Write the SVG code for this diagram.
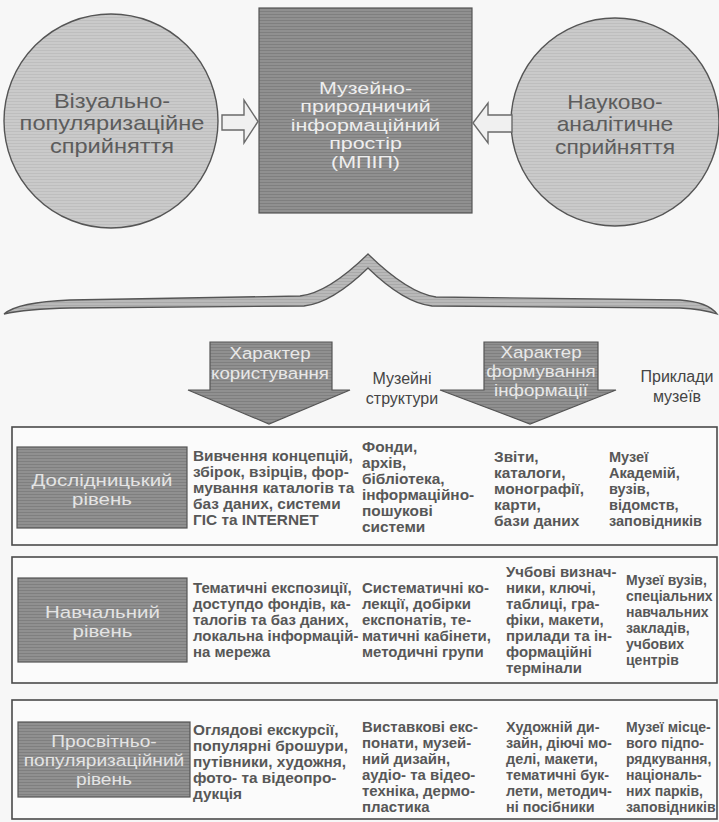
<svg xmlns="http://www.w3.org/2000/svg" width="719" height="822" viewBox="0 0 719 822">
<defs>
<pattern id="texL" width="8" height="3" patternUnits="userSpaceOnUse"><rect width="8" height="3" fill="#cacaca"/><rect y="2" width="8" height="1" fill="#bebebe"/></pattern>
<pattern id="texD" width="8" height="3" patternUnits="userSpaceOnUse"><rect width="8" height="3" fill="#909090"/><rect y="2" width="8" height="1" fill="#7f7f7f"/></pattern>
<pattern id="texB" width="8" height="3" patternUnits="userSpaceOnUse"><rect width="8" height="3" fill="#b9b9b9"/><rect y="2" width="8" height="1" fill="#a9a9a9"/></pattern>
</defs>
<style>
text{font-family:"Liberation Sans",Arial,sans-serif}
.body{font-size:14px;font-weight:bold;fill:#575757}
.hdr{font-size:16px;fill:#454545;text-anchor:middle}
.lab{font-size:16.5px;fill:#e4e4e4;text-anchor:middle}
.circ{font-size:20px;fill:#5c5c5c;text-anchor:middle}
.ctr{font-size:16.5px;fill:#eeeeee;text-anchor:middle}
.arr{font-size:17px;fill:#e8e8e8;text-anchor:middle}
.row{fill:#fbfbfb;stroke:#4a4a4a;stroke-width:1.6}
.dark{fill:url(#texD);stroke:#555;stroke-width:1.2}
.light{fill:url(#texL);stroke:#555;stroke-width:1.4}
.hollow{fill:#f0f0f0;stroke:#6a6a6a;stroke-width:1.4}
</style>
<rect width="719" height="822" fill="#f7f7f7"/>

<g id="node-visual">
<circle class="light" cx="111" cy="121" r="107"/>
<g transform="translate(112 0) scale(1.18 1)">
<text class="circ" x="0" y="108">Візуально-</text>
<text class="circ" x="0" y="130.5">популяризаційне</text>
<text class="circ" x="0" y="153">сприйняття</text>
</g>
</g>

<g id="node-mpip">
<rect class="dark" x="259" y="8" width="213" height="205"/>
<g transform="translate(365.5 0) scale(1.3 1)">
<text class="ctr" x="0" y="94">Музейно-</text>
<text class="ctr" x="0" y="112.5">природничий</text>
<text class="ctr" x="0" y="131">інформаційний</text>
<text class="ctr" x="0" y="149.5">простір</text>
<text class="ctr" x="0" y="168">(МПІП)</text>
</g>
</g>

<g id="node-scientific">
<circle class="light" cx="615" cy="122" r="104"/>
<g transform="translate(615 0) scale(1.14 1)">
<text class="circ" x="0" y="109">Науково-</text>
<text class="circ" x="0" y="131.5">аналітичне</text>
<text class="circ" x="0" y="154">сприйняття</text>
</g>
</g>

<g id="connectors">
<path class="hollow" d="M222,115 L244,115 L244,100 L258,121.5 L244,143 L244,130 L222,130 Z"/>
<path class="hollow" d="M473,123 L488,103 L488,115 L512,115 L512,132 L488,132 L488,143 Z"/>
<path fill="url(#texB)" stroke="#555" stroke-width="1.3" d="M4,314 Q18,302 70,300 L300,296 Q328,293 368,254 Q408,293 436,297 L680,300 Q708,302 717,314 Q702,309 680,308 L432,306 Q404,303 368,268 Q332,303 304,306 L70,308 Q26,309 4,314 Z"/>
</g>

<g id="node-usage">
<path class="dark" d="M210,342 L332,342 L332,390 L350,390 L269,424 L188,390 L210,390 Z"/>
<g transform="translate(270 0) scale(1.1 1)">
<text class="arr" x="0" y="359">Характер</text>
<text class="arr" x="0" y="379">користування</text>
</g>
</g>

<g id="node-structures">
<text class="hdr" x="402" y="384">Музейні</text>
<text class="hdr" x="402" y="404">структури</text>
</g>

<g id="node-formation">
<path class="dark" d="M484,342 L598,342 L598,390 L616,390 L530,424 L440,390 L484,390 Z"/>
<g transform="translate(541 0) scale(1.1 1)">
<text class="arr" x="0" y="358">Характер</text>
<text class="arr" x="0" y="377">формування</text>
<text class="arr" x="0" y="396">інформації</text>
</g>
</g>

<g id="node-examples">
<text class="hdr" x="677" y="382">Приклади</text>
<text class="hdr" x="677" y="402">музеїв</text>
</g>

<g id="row-research">
<rect class="row" x="12" y="427" width="705" height="118"/>
<rect class="dark" x="17" y="447" width="170" height="81"/>
<g transform="translate(102 0) scale(1.24 1)">
<text class="lab" x="0" y="486">Дослідницький</text>
<text class="lab" x="0" y="505">рівень</text>
</g>
<g transform="translate(193 0) scale(1.1 1)">
<text class="body" x="0" y="461">Вивчення концепцій,</text>
<text class="body" x="0" y="477">збірок, взірців, фор-</text>
<text class="body" x="0" y="493">мування каталогів та</text>
<text class="body" x="0" y="509">баз даних, системи</text>
<text class="body" x="0" y="525">ГІС та INTERNET</text>
</g>
<g transform="translate(362 0) scale(1.1 1)">
<text class="body" x="0" y="452">Фонди,</text>
<text class="body" x="0" y="468">архів,</text>
<text class="body" x="0" y="484">бібліотека,</text>
<text class="body" x="0" y="500">інформаційно-</text>
<text class="body" x="0" y="516">пошукові</text>
<text class="body" x="0" y="532">системи</text>
</g>
<g transform="translate(494 0) scale(1.1 1)">
<text class="body" x="0" y="462">Звіти,</text>
<text class="body" x="0" y="478">каталоги,</text>
<text class="body" x="0" y="494">монографії,</text>
<text class="body" x="0" y="510">карти,</text>
<text class="body" x="0" y="526">бази даних</text>
</g>
<g transform="translate(609 0) scale(1.04 1)">
<text class="body" x="0" y="462">Музеї</text>
<text class="body" x="0" y="478">Академій,</text>
<text class="body" x="0" y="494">вузів,</text>
<text class="body" x="0" y="510">відомств,</text>
<text class="body" x="0" y="526">заповідників</text>
</g>
</g>

<g id="row-educational">
<rect class="row" x="12" y="557" width="705" height="126"/>
<rect class="dark" x="18" y="578" width="169" height="84"/>
<g transform="translate(102.5 0) scale(1.24 1)">
<text class="lab" x="0" y="618">Навчальний</text>
<text class="lab" x="0" y="637">рівень</text>
</g>
<g transform="translate(193 0) scale(1.07 1)">
<text class="body" x="0" y="593">Тематичні експозиції,</text>
<text class="body" x="0" y="609">доступдо фондів, ка-</text>
<text class="body" x="0" y="625">талогів та баз даних,</text>
<text class="body" x="0" y="641">локальна інформацій-</text>
<text class="body" x="0" y="657">на мережа</text>
</g>
<g transform="translate(362 0) scale(1.07 1)">
<text class="body" x="0" y="593">Систематичні ко-</text>
<text class="body" x="0" y="609">лекції, добірки</text>
<text class="body" x="0" y="625">експонатів, те-</text>
<text class="body" x="0" y="641">матичні кабінети,</text>
<text class="body" x="0" y="657">методичні групи</text>
</g>
<g transform="translate(506 0) scale(1.07 1)">
<text class="body" x="0" y="577">Учбові визнач-</text>
<text class="body" x="0" y="593">ники, ключі,</text>
<text class="body" x="0" y="609">таблиці, гра-</text>
<text class="body" x="0" y="625">фіки, макети,</text>
<text class="body" x="0" y="641">прилади та ін-</text>
<text class="body" x="0" y="657">формаційні</text>
<text class="body" x="0" y="673">термінали</text>
</g>
<g transform="translate(626 0) scale(1.0 1)">
<text class="body" x="0" y="585">Музеї вузів,</text>
<text class="body" x="0" y="601">спеціальних</text>
<text class="body" x="0" y="617">навчальних</text>
<text class="body" x="0" y="633">закладів,</text>
<text class="body" x="0" y="649">учбових</text>
<text class="body" x="0" y="665">центрів</text>
</g>
</g>

<g id="row-enlightenment">
<rect class="row" x="12" y="700" width="705" height="119"/>
<rect class="dark" x="18" y="722" width="172" height="75"/>
<g transform="translate(104 0) scale(1.16 1)">
<text class="lab" x="0" y="747">Просвітньо-</text>
<text class="lab" x="0" y="766">популяризаційний</text>
<text class="lab" x="0" y="785">рівень</text>
</g>
<g transform="translate(193 0) scale(1.1 1)">
<text class="body" x="0" y="735">Оглядові екскурсії,</text>
<text class="body" x="0" y="751">популярні брошури,</text>
<text class="body" x="0" y="767">путівники, художня,</text>
<text class="body" x="0" y="783">фото- та відеопро-</text>
<text class="body" x="0" y="799">дукція</text>
</g>
<g transform="translate(362 0) scale(1.07 1)">
<text class="body" x="0" y="732">Виставкові екс-</text>
<text class="body" x="0" y="748">понати, музей-</text>
<text class="body" x="0" y="764">ний дизайн,</text>
<text class="body" x="0" y="780">аудіо- та відео-</text>
<text class="body" x="0" y="796">техніка, дермо-</text>
<text class="body" x="0" y="812">пластика</text>
</g>
<g transform="translate(506 0) scale(1.03 1)">
<text class="body" x="0" y="732">Художній ди-</text>
<text class="body" x="0" y="748">зайн, діючі мо-</text>
<text class="body" x="0" y="764">делі, макети,</text>
<text class="body" x="0" y="780">тематичні бук-</text>
<text class="body" x="0" y="796">лети, методич-</text>
<text class="body" x="0" y="812">ні посібники</text>
</g>
<g transform="translate(626 0) scale(1.0 1)">
<text class="body" x="0" y="732">Музеї місце-</text>
<text class="body" x="0" y="748">вого підпо-</text>
<text class="body" x="0" y="764">рядкування,</text>
<text class="body" x="0" y="780">національ-</text>
<text class="body" x="0" y="796">них парків,</text>
<text class="body" x="0" y="812">заповідників</text>
</g>
</g>
</svg>
